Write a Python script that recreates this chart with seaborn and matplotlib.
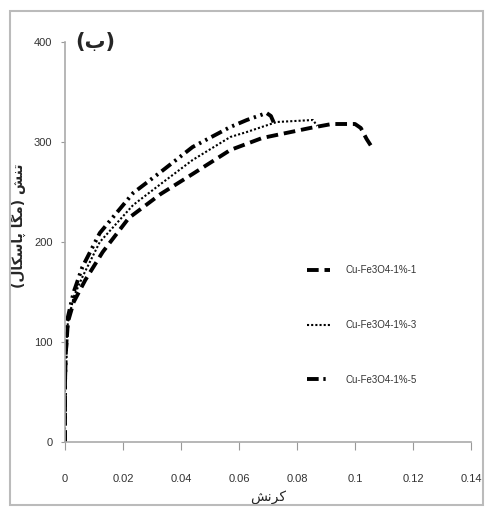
import matplotlib
matplotlib.use("Agg")
import matplotlib.pyplot as plt
from matplotlib.patches import Rectangle
import numpy as np
import pandas as pd
import seaborn as sns

sns.set_style("white")
plt.rcParams['font.family'] = ['Liberation Sans', 'DejaVu Sans']

# stress-strain readings for the three samples
strain_1 = [0, 0.0, 0.0003, 0.001, 0.003, 0.007, 0.013, 0.022, 0.033, 0.044, 0.057,
            0.068, 0.0845, 0.092, 0.1, 0.102, 0.104, 0.106]
stress_1 = [0, 60, 90, 120, 140, 162, 190, 224, 248, 268, 292,
            304, 314, 318, 318, 314, 303, 294]

strain_3 = [0, 0.0, 0.0003, 0.001, 0.003, 0.006, 0.012, 0.0235, 0.033, 0.044, 0.057,
            0.0627, 0.073, 0.0855, 0.087]
stress_3 = [0, 60, 90, 120, 145, 165, 200, 237, 258, 282, 305,
            310, 320, 322, 316]

strain_5 = [0, 0.0, 0.0003, 0.001, 0.003, 0.006, 0.012, 0.0235, 0.033, 0.044, 0.057,
            0.0627, 0.0695, 0.071, 0.0725]
stress_5 = [0, 60, 90, 125, 150, 175, 209, 249, 270, 295, 315,
            322, 329, 326, 316]

labels = ["Cu-Fe3O4-1%-1", "Cu-Fe3O4-1%-3", "Cu-Fe3O4-1%-5"]
x_ticks = [0, 0.02, 0.04, 0.06, 0.08, 0.1, 0.12, 0.14]
x_ticklabels = ["0", "0.02", "0.04", "0.06", "0.08", "0.1", "0.12", "0.14"]
y_ticks = [0, 100, 200, 300, 400]

# Persian text written in shaped (presentation) forms, visual order
y_label = "(\uFEDD\uFE8E\uFB91\uFEB3\uFE8E\uFB58 \uFE8E\uFB95\uFEE3) \uFEB6\uFEE8\uFE97"  # تنش (مگا پاسکال)
x_label = "\uFEB6\uFEE7\uFEAE\uFB90"  # کرنش
panel = "(\uFE8F)"  # (ب)

fig = plt.figure(figsize=(4.89, 5.12), dpi=100)
ax = fig.add_axes([65/489, 1-442/512, 406/489, 400/512])

sns.lineplot(x=strain_1, y=stress_1, ax=ax, color='black', lw=2.8, sort=False,
             estimator=None, linestyle=(0, (3, 1.5)), label=labels[0])
sns.lineplot(x=strain_3, y=stress_3, ax=ax, color='black', lw=1.5, sort=False,
             estimator=None, linestyle=(0, (1, 1)), label=labels[1])
sns.lineplot(x=strain_5, y=stress_5, ax=ax, color='black', lw=2.8, sort=False,
             estimator=None, linestyle=(0, (3, 1.2, 0.6, 1.2, 0.6, 1.2)), label=labels[2])

ax.set_xlim(0, 0.14)
ax.set_ylim(0, 400)
ax.set_xticks(x_ticks)
ax.set_xticklabels(x_ticklabels)
ax.set_yticks(y_ticks)
ax.tick_params(axis='x', length=6, color='#999', labelsize=8, labelcolor='#333', pad=17, direction='out')
ax.tick_params(axis='y', length=3, color='#999', labelsize=8, labelcolor='#333', pad=6, direction='out')
ax.xaxis.set_ticks_position('bottom')
ax.yaxis.set_ticks_position('left')
sns.despine(ax=ax)
for s in ['left', 'bottom']:
    ax.spines[s].set_color('#aaa')
    ax.spines[s].set_linewidth(1.2)

ax.set_ylabel(y_label, family=['DejaVu Sans'], fontsize=10, fontweight='bold')
ax.yaxis.set_label_coords(-0.095, 0.54)
ax.set_xlabel(x_label, family=['DejaVu Sans'], fontsize=10)
ax.xaxis.set_label_coords(0.5, -0.12)
ax.text(0.025, 1.0, panel, transform=ax.transAxes, family=['DejaVu Sans'],
        fontsize=15, fontweight='bold', va='center', ha='left')

ax.legend(loc='center left', bbox_to_anchor=(307/489, 1-325/512), bbox_transform=fig.transFigure,
          frameon=False, fontsize=7, labelspacing=4.6, handlelength=2.4, handletextpad=1.6,
          borderpad=0, borderaxespad=0, labelcolor='#333')

fig.patches.append(Rectangle((10/489, 7/512), 473/489, 494/512, transform=fig.transFigure,
                             fill=False, edgecolor='#bbb', lw=1.5))

fig.savefig("out.png", dpi=100)
